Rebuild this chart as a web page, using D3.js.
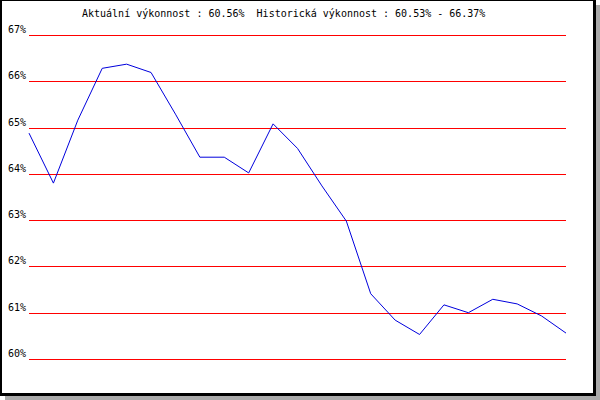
<!DOCTYPE html>
<html>
<head>
<meta charset="utf-8">
<script src="https://cdn.jsdelivr.net/npm/d3@7"></script>
<style>
  body { margin: 0; background: #fff; }
  svg text { font-family: "DejaVu Sans Mono", monospace; font-size: 10px; fill: #000; white-space: pre; }
</style>
</head>
<body>
<div id="chart"></div>
<script>
// performance history, one value per sample (percent)
const values = [64.88, 63.80, 65.16, 66.28, 66.37, 66.19, 65.29, 64.36, 64.36, 64.02, 65.08,
                64.55, 63.74, 62.98, 61.41, 60.84, 60.53, 61.17, 61.00, 61.29, 61.19, 60.93, 60.56];
const yTicks = [60, 61, 62, 63, 64, 65, 66, 67];
const title = "Aktuální výkonnost : 60.56%  Historická výkonnost : 60.53% - 66.37%";

const width = 600, height = 400;

const svg = d3.select("#chart").append("svg")
    .attr("width", width)
    .attr("height", height);

// drop shadow + frame
svg.append("rect").attr("x", 5).attr("y", 5).attr("width", 595).attr("height", 395).attr("fill", "#aaaaaa");
svg.append("rect").attr("x", 0).attr("y", 0).attr("width", 596).attr("height", 396).attr("fill", "#000");
svg.append("rect").attr("x", 2).attr("y", 1).attr("width", 591).attr("height", 392).attr("fill", "#fff");

const x = d3.scaleLinear().domain([0, values.length - 1]).range([29, 566]);
const y = d3.scaleLinear().domain([60, 67]).range([359, 35]);

svg.append("text")
    .attr("x", 82)
    .attr("y", 17)
    .attr("xml:space", "preserve")
    .text(title);

// grid lines
svg.append("g").selectAll("line")
    .data(yTicks)
    .enter().append("line")
    .attr("x1", x.range()[0])
    .attr("x2", x.range()[1])
    .attr("y1", d => Math.round(y(d)) + 0.5)
    .attr("y2", d => Math.round(y(d)) + 0.5)
    .attr("stroke", "#ff0000")
    .attr("shape-rendering", "crispEdges");

// tick labels
svg.append("g").selectAll("text")
    .data(yTicks)
    .enter().append("text")
    .attr("x", 26)
    .attr("y", d => Math.round(y(d)) - 2)
    .attr("text-anchor", "end")
    .text(d => d + "%");

const line = d3.line()
    .x((d, i) => x(i))
    .y(d => y(d));

svg.append("path")
    .datum(values)
    .attr("d", line)
    .attr("fill", "none")
    .attr("stroke", "#0000dd")
    .attr("stroke-width", 1);
</script>
</body>
</html>
